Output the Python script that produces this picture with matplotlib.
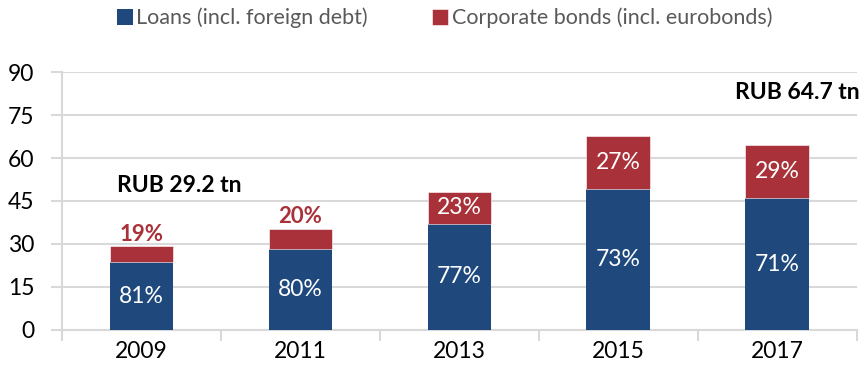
import numpy as np
import matplotlib.pyplot as plt

years = ["2009", "2011", "2013", "2015", "2017"]
totals = [29.2, 35.3, 48.1, 67.6, 64.7]
loan_share = [81, 80, 77, 73, 71]
bond_share = [19, 20, 23, 27, 29]

loans = [t * s / 100 for t, s in zip(totals, loan_share)]
bonds = [t - l for t, l in zip(totals, loans)]

blue = "#1f497d"
red = "#a9323a"
grid_col = "#d9d9d9"

plt.rcParams['font.family'] = ['Lato', 'DejaVu Sans']

fig = plt.figure(figsize=(8.61, 3.77), dpi=100)
ax = fig.add_axes([0.072, 0.1247, 0.923, 0.6843])

x = np.arange(len(years))
w = 0.4
b1 = ax.bar(x, loans, w, color=blue, label="Loans (incl. foreign debt)", zorder=3)
b2 = ax.bar(x, bonds, w, bottom=loans, color=red, label="Corporate bonds (incl. eurobonds)",
            zorder=3, edgecolor="white", linewidth=0.4)

# shares inside the bars
for i in range(len(years)):
    ax.text(x[i], loans[i] / 2, f"{loan_share[i]}%", ha="center", va="center",
            color="white", fontsize=16.5, zorder=4)
    if bonds[i] < 10:
        ax.annotate(f"{bond_share[i]}%", (x[i], totals[i]), xytext=(0, 1),
                    textcoords="offset points", ha="center", va="bottom",
                    color=red, fontsize=16, fontweight="bold", zorder=4)
    else:
        ax.text(x[i], loans[i] + bonds[i] / 2, f"{bond_share[i]}%", ha="center",
                va="center", color="white", fontsize=16.5, zorder=4)

ax.text(0.24, 50.3, f"RUB {totals[0]} tn", ha="center", va="center",
        fontsize=16.5, fontweight="bold")
ax.text(4.52, 82.7, f"RUB {totals[-1]} tn", ha="right", va="center",
        fontsize=16.5, fontweight="bold", clip_on=False)

ax.set_xlim(-0.5, 4.5)
ax.set_ylim(0, 90)
ax.set_yticks(np.arange(0, 91, 15))
ax.set_xticks(x)
ax.set_xticklabels(years)
ax.set_xticks(np.arange(-0.5, 4.6, 1), minor=True)
ax.tick_params(axis="x", which="major", length=0, pad=8, labelsize=16.5)
ax.tick_params(axis="x", which="minor", length=8, color=grid_col, width=1.5)
ax.tick_params(axis="y", length=8, color=grid_col, width=1.5, pad=12, labelsize=16.5)
ax.yaxis.grid(True, color=grid_col, linewidth=1.5, zorder=0)
ax.set_axisbelow(True)
for s in ["top", "right"]:
    ax.spines[s].set_visible(False)
for s in ["left", "bottom"]:
    ax.spines[s].set_color(grid_col)
    ax.spines[s].set_linewidth(1.5)

fig.legend(handles=[b1, b2], loc="center", bbox_to_anchor=(0.516, 0.952), ncol=2,
           frameon=False, fontsize=15.5, handlelength=0.75, handleheight=0.75,
           handletextpad=0.15, columnspacing=3.0, labelcolor="#595959")

fig.savefig("out.png", dpi=100)
